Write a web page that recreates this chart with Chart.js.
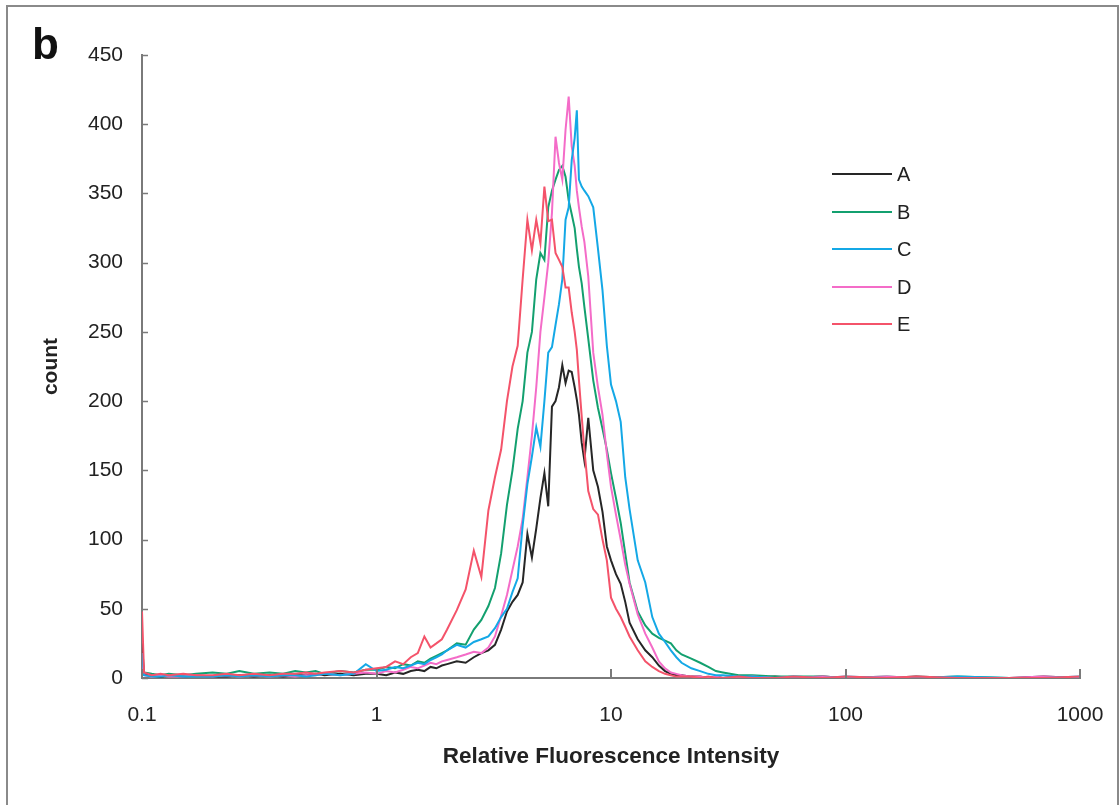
<!DOCTYPE html>
<html>
<head>
<meta charset="utf-8">
<script src="https://cdn.jsdelivr.net/npm/chart.js@4.4.1/dist/chart.umd.min.js"></script>
<style>
  html, body { margin: 0; padding: 0; background: #fff; }
  #wrap { position: relative; width: 1120px; height: 805px; overflow: hidden; font-family: "Liberation Sans", Arial, sans-serif; }
  #frame { position: absolute; left: 6px; top: 5px; width: 1113px; height: 840px; border: 2px solid #8a8a8a; box-sizing: border-box; }
  #panel { position: absolute; left: 32px; top: 22px; font-size: 44px; font-weight: bold; color: #111; line-height: 1; }
  canvas { position: absolute; left: 0; top: 0; }
  .lg-line { position: absolute; height: 2px; width: 60px; left: 832px; }
  .lg-text { position: absolute; left: 897px; font-size: 20px; color: #222; line-height: 20px; }
</style>
</head>
<body>
<div id="wrap">
  <div id="frame"></div>
  <canvas id="c" width="1120" height="805"></canvas>
  <div id="panel">b</div>
  <div id="legend"></div>
</div>
<script>
// ---------- data ----------
const xValues = [
  0.1, 0.102, 0.11, 0.12, 0.13, 0.15, 0.17, 0.2, 0.23, 0.26, 0.3, 0.35, 0.4, 0.45, 0.5, 0.55, 0.6, 0.7, 0.8, 0.9,
  1.0, 1.1, 1.2, 1.3, 1.4, 1.5, 1.6, 1.7, 1.8, 1.9,
  2.0, 2.2, 2.4, 2.6, 2.8, 3.0, 3.2, 3.4, 3.6, 3.8,
  4.0, 4.2, 4.4, 4.6, 4.8, 5.0, 5.2, 5.4, 5.6, 5.8, 6.0, 6.2, 6.4, 6.6, 6.8,
  7.0, 7.15, 7.3, 7.5, 7.7,
  8.0, 8.4, 8.8, 9.2, 9.6,
  10, 10.5, 11, 11.5, 12,
  13, 14, 15, 16, 17, 18, 19, 20,
  22, 24, 26, 28, 30,
  35, 40, 50, 60, 80, 100,
  150, 200, 300, 500, 700, 1000
];

const seriesA = [
  25, 3, 2, 1, 2, 1, 2, 1, 1, 2, 1, 2, 1, 2, 2, 3, 2, 3, 2, 3,
  3, 2, 4, 3, 5, 6, 5, 8, 7, 9,
  10, 12, 11, 15, 18, 20, 24, 35, 48, 55,
  60, 69, 104, 87, 108, 130, 148, 124, 196, 200, 210, 226, 213, 222, 221,
  210, 201, 190, 170, 157,
  188, 150, 138, 120, 95,
  85, 75, 68, 55, 40,
  28, 20, 15, 9, 5, 3, 2, 2,
  1, 1, 0, 1, 0,
  1, 0, 1, 0, 1, 0,
  0, 1, 0, 0, 1, 0
];
const seriesB = [
  10, 4, 3, 2, 3, 2, 3, 4, 3, 5, 3, 4, 3, 5, 4, 5, 3, 5, 4, 6,
  6, 8, 7, 10, 9, 12, 11, 14, 16, 18,
  20, 25, 24, 35, 42, 52, 65, 90, 125, 150,
  180, 200, 235, 250, 288, 307, 302, 340, 352, 360, 367, 370, 362, 345, 335,
  325, 310, 297, 285, 268,
  245, 215, 195, 180, 165,
  148, 130, 112, 90, 69,
  48, 38, 32, 29, 27, 25, 20, 17,
  14, 11, 8, 5, 4,
  2, 2, 1, 1, 1, 0,
  1, 0, 1, 0, 0, 0
];
const seriesC = [
  18, 2, 1, 1, 2, 1, 1, 1, 2, 1, 2, 1, 2, 2, 1, 2, 3, 2, 3, 10,
  5, 6, 8, 7, 9, 11, 10, 13, 15, 17,
  20, 24, 22, 26, 28, 30, 36, 44, 50, 62,
  72, 110, 140, 160, 181, 167, 200, 235, 239, 255, 270, 288, 331, 340, 374,
  390, 410, 360, 355, 352,
  348, 340, 310, 280, 240,
  212, 200, 185, 145, 122,
  85, 69, 44, 32, 26, 20, 15, 11,
  7, 5, 3, 2, 2,
  1, 1, 0, 1, 0, 1,
  0, 0, 1, 0, 0, 1
];
const seriesD = [
  12, 2, 1, 2, 1, 1, 2, 1, 2, 1, 2, 1, 2, 1, 2, 2, 3, 2, 3, 4,
  3, 5, 4, 6, 8, 7, 9, 11, 10, 12,
  13, 15, 17, 19, 18, 22, 30, 45, 60, 78,
  95, 115, 145, 175, 210, 250, 275, 300, 336, 391, 372, 360, 396, 420, 384,
  370, 352, 340, 326, 315,
  290, 235, 210, 190, 162,
  138, 118, 100, 82, 68,
  46, 32, 22, 12, 7, 4, 3, 2,
  1, 1, 0, 1, 0,
  0, 1, 0, 0, 1, 0,
  1, 0, 0, 0, 1, 0
];
const seriesE = [
  48, 4, 2, 3, 2, 3, 2, 2, 3, 2, 3, 2, 3, 3, 4, 3, 4, 5, 4, 6,
  7, 8, 12, 10, 15, 18, 30, 22, 25, 28,
  35, 49, 64, 92, 73, 121, 145, 165, 200, 225,
  240, 288, 331, 309, 331, 314, 355, 330, 331, 307, 302, 297, 282, 282, 264,
  250, 237, 215, 189, 165,
  135, 122, 118, 100, 85,
  58, 50, 44, 37, 30,
  20, 12, 8, 5, 3, 2, 1, 1,
  1, 0, 1, 0, 0,
  1, 0, 0, 1, 0, 1,
  0, 1, 0, 0, 0, 1
];

const seriesLabels = ['A', 'B', 'C', 'D', 'E'];
const xTickValues = [0.1, 1, 10, 100, 1000];
const xTickLabels = ['0.1', '1', '10', '100', '1000'];
const yTickValues = [0, 50, 100, 150, 200, 250, 300, 350, 400, 450];
const xTitle = 'Relative Fluorescence Intensity';
const yTitle = 'count';

// ---------- styling ----------
const colors = ['#262626', '#13a06f', '#14a8e6', '#f46cc8', '#f4536a'];
const allSeries = [seriesA, seriesB, seriesC, seriesD, seriesE];
const drawOrder = [5, 4, 2, 3, 1];

const datasets = allSeries.map((s, i) => ({
  label: seriesLabels[i],
  data: xValues.map((x, j) => ({ x: x, y: s[j] })),
  borderColor: colors[i],
  backgroundColor: colors[i],
  borderWidth: 2,
  pointRadius: 0,
  tension: 0,
  fill: false,
  order: drawOrder[i]
}));

// legend (HTML)
const legendRows = [174, 212, 249, 287, 324];
const legendEl = document.getElementById('legend');
seriesLabels.forEach((lab, i) => {
  const ln = document.createElement('div');
  ln.className = 'lg-line';
  ln.style.top = (legendRows[i] - 1) + 'px';
  ln.style.background = colors[i];
  legendEl.appendChild(ln);
  const tx = document.createElement('div');
  tx.className = 'lg-text';
  tx.style.top = (legendRows[i] - 10) + 'px';
  tx.textContent = lab;
  legendEl.appendChild(tx);
});

const axisColor = '#7a7a7a';
const font = 'Liberation Sans, Arial, sans-serif';

const tickMarks = {
  id: 'tickMarks',
  afterDatasetsDraw(chart) {
    const { ctx, scales: { x, y } } = chart;
    ctx.save();
    ctx.strokeStyle = axisColor;
    ctx.lineWidth = 1.5;
    yTickValues.forEach(v => {
      const py = Math.round(y.getPixelForValue(v)) + 0.5;
      ctx.beginPath();
      ctx.moveTo(x.left, py);
      ctx.lineTo(x.left + 6, py);
      ctx.stroke();
    });
    ctx.lineWidth = 2;
    xTickValues.forEach(v => {
      const px = Math.round(x.getPixelForValue(v));
      ctx.beginPath();
      ctx.moveTo(px, y.bottom);
      ctx.lineTo(px, y.bottom - 9);
      ctx.stroke();
    });
    ctx.restore();
  }
};

new Chart(document.getElementById('c'), {
  type: 'line',
  data: { datasets },
  options: {
    responsive: false,
    animation: false,
    events: [],
    layout: { padding: { left: 10, right: 40, top: 55, bottom: 0 } },
    plugins: { legend: { display: false }, tooltip: { enabled: false } },
    scales: {
      x: {
        type: 'logarithmic',
        min: 0.1,
        max: 1000,
        afterBuildTicks(scale) { scale.ticks = xTickValues.map(v => ({ value: v })); },
        afterFit(scale) { scale.height = 127; scale.paddingLeft = 0; scale.paddingRight = 0; },
        ticks: {
          autoSkip: false,
          maxRotation: 0,
          padding: 25,
          color: '#222',
          font: { family: font, size: 21 },
          callback(v) { const k = xTickValues.indexOf(v); return k >= 0 ? xTickLabels[k] : ''; }
        },
        grid: { display: false, drawTicks: false },
        border: { display: true, color: axisColor, width: 2 },
        title: {
          display: true,
          text: xTitle,
          color: '#222',
          font: { family: font, size: 22.5, weight: 'bold' },
          padding: { top: 0, bottom: 35 }
        }
      },
      y: {
        type: 'linear',
        min: 0,
        max: 450,
        afterBuildTicks(scale) { scale.ticks = yTickValues.map(v => ({ value: v })); },
        afterFit(scale) { scale.width = 132; scale.paddingTop = 0; scale.paddingBottom = 0; },
        ticks: {
          padding: 19,
          color: '#222',
          font: { family: font, size: 21 }
        },
        grid: { display: false, drawTicks: false },
        border: { display: true, color: axisColor, width: 2 },
        title: {
          display: true,
          text: yTitle,
          color: '#222',
          font: { family: font, size: 21, weight: 'bold' },
          padding: { top: 29, bottom: 0 }
        }
      }
    }
  },
  plugins: [tickMarks]
});
</script>
</body>
</html>
